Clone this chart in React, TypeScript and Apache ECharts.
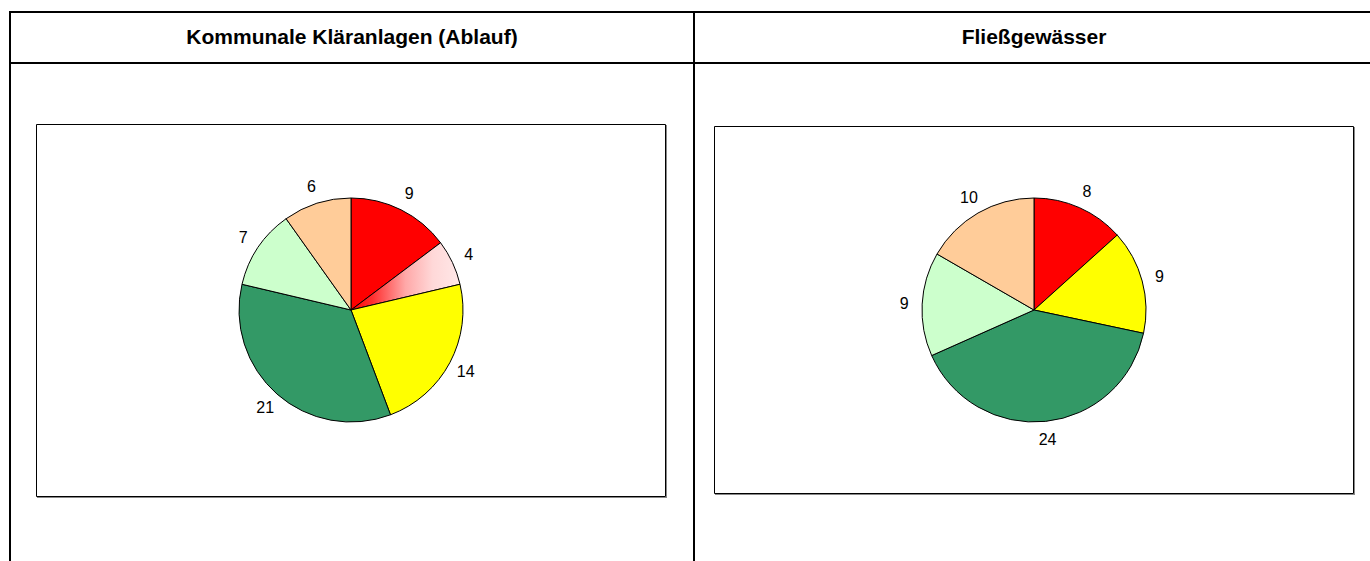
import React, { useEffect, useRef } from "react";
import * as echarts from "echarts";

// ---- data ----
const headers = ["Kommunale Kläranlagen (Ablauf)", "Fließgewässer"];

const ablaufCategories = ["rot", "rosa", "gelb", "dunkelgrün", "hellgrün", "orange"];
const ablaufValues = [9, 4, 14, 21, 7, 6];

const fliessCategories = ["rot", "gelb", "dunkelgrün", "hellgrün", "orange"];
const fliessValues = [8, 9, 24, 9, 10];

const colorMap: Record<string, any> = {
  rot: "#FF0000",
  rosa: new echarts.graphic.LinearGradient(0, 0, 1, 0, [
    { offset: 0, color: "#FF0000" },
    { offset: 0.2, color: "#FF3030" },
    { offset: 0.5, color: "#FFA8A8" },
    { offset: 0.75, color: "#FFD8D8" },
    { offset: 1, color: "#FFE8E8" },
  ]),
  gelb: "#FFFF00",
  "dunkelgrün": "#339966",
  "hellgrün": "#CCFFCC",
  orange: "#FFCC99",
};

const FONT = "'Liberation Sans', Arial, Helvetica, sans-serif";

function pieSeries(cats: string[], vals: number[], center: [number, number]) {
  const data = cats.map((c, i) => ({
    name: c,
    value: vals[i],
    itemStyle: { color: colorMap[c] },
  }));
  const labelData = cats.map((c, i) => ({ name: c, value: vals[i] }));
  return [
    {
      type: "pie",
      center,
      radius: 112,
      startAngle: 90,
      clockwise: true,
      silent: true,
      label: { show: false },
      labelLine: { show: false },
      itemStyle: { borderColor: "#000", borderWidth: 1 },
      emphasis: { disabled: true },
      data,
    },
    {
      type: "pie",
      center,
      radius: [116, 138],
      startAngle: 90,
      clockwise: true,
      silent: true,
      avoidLabelOverlap: false,
      itemStyle: { color: "rgba(0,0,0,0)", borderWidth: 0 },
      label: {
        show: true,
        position: "inside",
        formatter: "{c}",
        color: "#000",
        fontSize: 16,
        fontFamily: FONT,
      },
      labelLine: { show: false },
      emphasis: { disabled: true },
      data: labelData,
    },
  ];
}

export default function App() {
  const ref = useRef<HTMLDivElement>(null);
  useEffect(() => {
    if (!ref.current) return;
    const chart = echarts.init(ref.current, null, { renderer: "svg" });
    const black = { fill: "#000" };
    const option: any = {
      animation: false,
      backgroundColor: "#fff",
      graphic: [
        // table lines
        { type: "rect", shape: { x: 9, y: 11, width: 1361, height: 2 }, style: black, silent: true },
        { type: "rect", shape: { x: 9, y: 62, width: 1361, height: 2 }, style: black, silent: true },
        { type: "rect", shape: { x: 9, y: 11, width: 2, height: 550 }, style: black, silent: true },
        { type: "rect", shape: { x: 693, y: 11, width: 2, height: 550 }, style: black, silent: true },
        // headers
        {
          type: "text",
          x: 352,
          y: 36,
          style: {
            text: headers[0],
            font: `bold 21px ${FONT}`,
            fill: "#000",
            align: "center",
            verticalAlign: "middle",
          },
          silent: true,
        },
        {
          type: "text",
          x: 1034,
          y: 36,
          style: {
            text: headers[1],
            font: `bold 21px ${FONT}`,
            fill: "#000",
            align: "center",
            verticalAlign: "middle",
          },
          silent: true,
        },
        // boxes
        { type: "rect", shape: { x: 36.5, y: 124.5, width: 629, height: 372 }, style: { fill: "none", stroke: "#000", lineWidth: 1 }, silent: true },
        { type: "line", shape: { x1: 666.5, y1: 125, x2: 666.5, y2: 498 }, style: { stroke: "#888", lineWidth: 1 }, silent: true },
        { type: "line", shape: { x1: 37, y1: 497.5, x2: 667, y2: 497.5 }, style: { stroke: "#888", lineWidth: 1 }, silent: true },
        { type: "rect", shape: { x: 714.5, y: 126.5, width: 639, height: 367 }, style: { fill: "none", stroke: "#000", lineWidth: 1 }, silent: true },
        { type: "line", shape: { x1: 1354.5, y1: 127, x2: 1354.5, y2: 495 }, style: { stroke: "#888", lineWidth: 1 }, silent: true },
        { type: "line", shape: { x1: 715, y1: 494.5, x2: 1355, y2: 494.5 }, style: { stroke: "#888", lineWidth: 1 }, silent: true },
      ],
      series: [
        ...pieSeries(ablaufCategories, ablaufValues, [351, 310]),
        ...pieSeries(fliessCategories, fliessValues, [1034, 310]),
      ],
    };
    chart.setOption(option);
    return () => chart.dispose();
  }, []);
  return (
    <div
      ref={ref}
      style={{ position: "fixed", left: 0, top: 0, width: 1370, height: 561 }}
    />
  );
}
